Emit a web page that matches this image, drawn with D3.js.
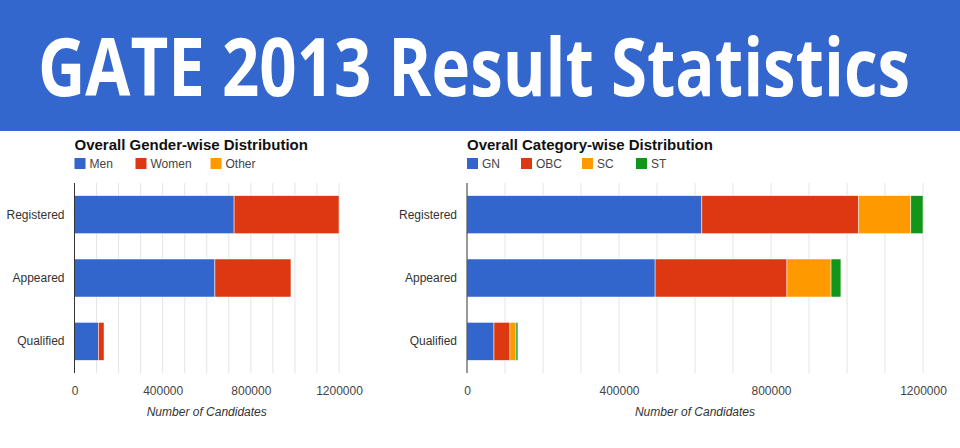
<!DOCTYPE html>
<html><head><meta charset="utf-8">
<script src="https://cdn.jsdelivr.net/npm/d3@7"></script>
<style>body{margin:0;background:#fff}svg{display:block;font-family:"Liberation Sans",Arial,sans-serif}</style>
</head><body>
<script>
var stages = ["Registered", "Appeared", "Qualified"];
var genderKeys = ["Men", "Women", "Other"];
var men = [724000, 637000, 108000];
var women = [476000, 345000, 26000];
var other = [0, 0, 0];
var catKeys = ["GN", "OBC", "SC", "ST"];
var gn = [618000, 495000, 71000];
var obc = [413000, 347000, 42000];
var sc = [137000, 116000, 16000];
var st = [32000, 26000, 5000];
var xTicks = [0, 400000, 800000, 1200000];
var colors = ["#3366cc", "#dc3912", "#ff9900", "#109618"];

var svg = d3.select("body").append("svg").attr("width", 960).attr("height", 448);
svg.append("rect").attr("width", 960).attr("height", 131).attr("fill", "#3467cd");
svg.append("text").attr("x", 38).attr("y", 96).attr("fill", "#fff")
  .attr("font-family", "'Open Sans', Lato, sans-serif").attr("font-weight", "bold")
  .attr("font-size", 80).attr("textLength", 872).attr("lengthAdjust", "spacingAndGlyphs")
  .text("GATE 2013 Result Statistics");

function chart(x0, x1, title, keys, series) {
  var g = svg.append("g");
  var x = d3.scaleLinear().domain([0, 1200000]).range([x0, x1]);
  var y = d3.scaleBand().domain(stages).range([183, 373]).paddingInner(0.4).paddingOuter(0.2);
  g.append("text").attr("x", x0).attr("y", 150).attr("font-weight", "bold").attr("font-size", 15).attr("fill", "#111").text(title);
  var lx = x0;
  keys.forEach(function(k, i) {
    g.append("rect").attr("x", lx).attr("y", 158).attr("width", 11).attr("height", 11).attr("fill", colors[i]);
    g.append("text").attr("x", lx + 15).attr("y", 168).attr("font-size", 12).attr("fill", "#444").text(k);
    lx += 15 + k.length * 7 + 25;
  });
  // grid
  g.selectAll(".grid").data(d3.range(100000, 1200001, 100000)).enter().append("line")
    .attr("x1", function(d) { return x(d); }).attr("x2", function(d) { return x(d); })
    .attr("y1", 183).attr("y2", 373).attr("stroke", "#e4e4e4");
  var rows = stages.map(function(s, j) {
    var r = { stage: s };
    keys.forEach(function(k, i) { r[k] = series[i][j]; });
    return r;
  });
  var stack = d3.stack().keys(keys)(rows);
  stack.forEach(function(layer, i) {
    g.selectAll(null).data(layer).enter().append("rect")
      .attr("x", function(d) { return x(d[0]); })
      .attr("width", function(d) { return Math.max(0, x(d[1]) - x(d[0])); })
      .attr("y", function(d) { return y(d.data.stage); })
      .attr("height", y.bandwidth())
      .attr("fill", colors[i]).attr("stroke", "#fff").attr("stroke-width", 0.5);
  });
  g.append("line").attr("x1", x0).attr("x2", x0).attr("y1", 183).attr("y2", 373).attr("stroke", "#333");
  g.selectAll(".yl").data(stages).enter().append("text")
    .attr("x", x0 - 10).attr("y", function(d) { return y(d) + y.bandwidth() / 2 + 4; })
    .attr("text-anchor", "end").attr("font-size", 12).attr("fill", "#333").text(function(d) { return d; });
  var ax = g.append("g").attr("transform", "translate(0,373)")
    .call(d3.axisBottom(x).tickValues(xTicks).tickSize(0).tickPadding(13).tickFormat(d3.format("d")));
  ax.select(".domain").remove();
  ax.selectAll("text").attr("font-size", 12).attr("fill", "#444").attr("font-family", "'Liberation Sans',Arial,sans-serif");
  g.append("text").attr("x", (x0 + x1) / 2).attr("y", 416).attr("text-anchor", "middle")
    .attr("font-size", 12).attr("font-style", "italic").attr("fill", "#333").text("Number of Candidates");
}
chart(74.5, 339, "Overall Gender-wise Distribution", genderKeys, [men, women, other]);
chart(467, 923, "Overall Category-wise Distribution", catKeys, [gn, obc, sc, st]);
</script>
</body></html>
